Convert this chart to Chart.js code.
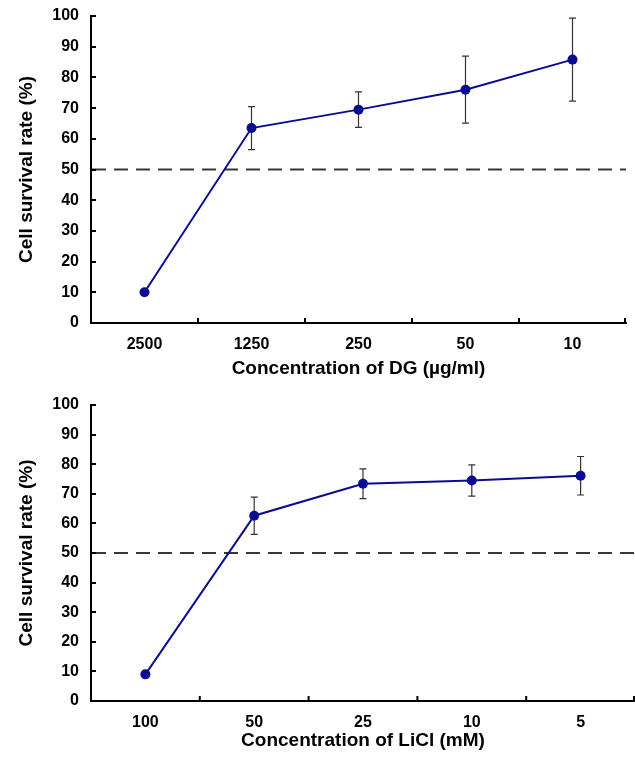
<!DOCTYPE html>
<html>
<head>
<meta charset="utf-8">
<script src="https://cdn.jsdelivr.net/npm/chart.js@4.4.1/dist/chart.umd.min.js"></script>
<style>
body{margin:0;background:#fff;}
canvas{position:absolute;left:0;}
#dgChart{top:0;}
#liclChart{top:380px;}
</style>
</head>
<body>
<canvas id="dgChart" width="635" height="380"></canvas>
<canvas id="liclChart" width="635" height="379"></canvas>
<script>
// DG panel
const dgLabels=["2500","1250","250","50","10"];
const dgSurvival=[10,63.5,69.5,76,85.8];
const dgError=[0,7,5.8,10.9,13.5];
// LiCl panel
const liclLabels=["100","50","25","10","5"];
const liclSurvival=[9,62.6,73.4,74.5,76.1];
const liclError=[0,6.3,5,5.3,6.5];
// y axis + 50% reference line
const yMin=0, yMax=100, yStep=10;
const cutoff=50;

const lineColor="#0c0c90";
const fontFam="'Liberation Sans', Arial, sans-serif";

const extras={
  id:"extras",
  beforeDatasetsDraw(chart,args,opts){
    const ctx=chart.ctx, x=chart.scales.x, y=chart.scales.y, a=chart.chartArea;
    ctx.save();
    // dashed 50% line
    ctx.strokeStyle="#383838"; ctx.lineWidth=2; ctx.setLineDash([14,8]);
    const yc=y.getPixelForValue(cutoff);
    ctx.beginPath(); ctx.moveTo(a.left+1,yc); ctx.lineTo(a.right,yc); ctx.stroke();
    ctx.setLineDash([]);
    // error bars
    ctx.strokeStyle="#333"; ctx.lineWidth=1.2;
    chart.data.datasets[0].data.forEach((v,i)=>{
      const e=opts.err[i];
      if(!e) return;
      const px=x.getPixelForValue(i), t=y.getPixelForValue(v+e), b=y.getPixelForValue(v-e);
      ctx.beginPath();
      ctx.moveTo(px,t); ctx.lineTo(px,b);
      ctx.moveTo(px-3.5,t); ctx.lineTo(px+3.5,t);
      ctx.moveTo(px-3.5,b); ctx.lineTo(px+3.5,b);
      ctx.stroke();
    });
    ctx.restore();
  },
  afterDraw(chart){
    const ctx=chart.ctx, x=chart.scales.x, y=chart.scales.y, a=chart.chartArea;
    ctx.save();
    ctx.strokeStyle="#000"; ctx.lineWidth=2;
    ctx.beginPath();
    // inward y ticks
    y.ticks.forEach(t=>{
      const py=Math.round(y.getPixelForValue(t.value));
      ctx.moveTo(a.left,py); ctx.lineTo(a.left+5,py);
    });
    // inward x ticks between categories
    const n=chart.data.labels.length;
    for(let i=0;i<n;i++){
      const px=i<n-1?(x.getPixelForValue(i)+x.getPixelForValue(i+1))/2:a.right-1;
      ctx.moveTo(px,a.bottom); ctx.lineTo(px,a.bottom-5);
    }
    ctx.stroke();
    ctx.restore();
  }
};

function makeChart(id,labels,values,errs,xTitle,padTop,padRight,axisH,titlePadB){
  return new Chart(document.getElementById(id),{
    type:"line",
    data:{labels:labels,datasets:[{
      data:values,
      borderColor:lineColor,
      backgroundColor:lineColor,
      borderWidth:2,
      pointRadius:5,
      pointBorderWidth:0,
      pointBackgroundColor:lineColor,
      tension:0
    }]},
    options:{
      responsive:false,
      animation:false,
      layout:{autoPadding:false,padding:{top:padTop,right:padRight,left:0,bottom:0}},
      plugins:{legend:{display:false},tooltip:{enabled:false},extras:{err:errs}},
      scales:{
        x:{
          offset:true,
          grid:{display:true,drawOnChartArea:false,drawTicks:false,offset:true},
          border:{display:true,color:"#000",width:2},
          ticks:{color:"#000",padding:12,font:{family:fontFam,size:16,weight:"bold"}},
          title:{display:true,text:xTitle,color:"#000",padding:{top:0,bottom:titlePadB},font:{family:fontFam,size:19,weight:"bold"}},
          afterFit(s){s.height=axisH; s.paddingLeft=0; s.paddingRight=0;}
        },
        y:{
          min:yMin,max:yMax,
          grid:{display:true,drawOnChartArea:false,drawTicks:false},
          border:{display:true,color:"#000",width:2},
          ticks:{stepSize:yStep,color:"#000",padding:12,font:{family:fontFam,size:16,weight:"bold"}},
          title:{display:true,text:"Cell survival rate (%)",color:"#000",padding:{top:15,bottom:0},font:{family:fontFam,size:19,weight:"bold"}},
          afterFit(s){s.width=91; s.paddingTop=0; s.paddingBottom=0;}
        }
      }
    },
    plugins:[extras]
  });
}

makeChart("dgChart",dgLabels,dgSurvival,dgError,"Concentration of DG (\u00b5g/ml)",16,9,57,0);
makeChart("liclChart",liclLabels,liclSurvival,liclError,"Concentration of LiCl (mM)",25,0,58,7);
</script>
</body>
</html>
